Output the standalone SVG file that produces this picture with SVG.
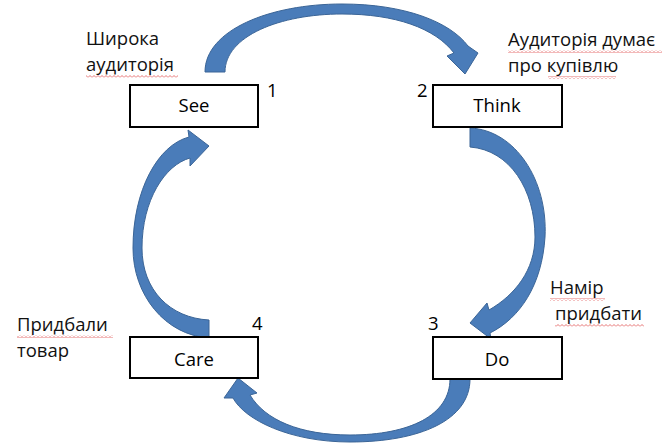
<svg xmlns="http://www.w3.org/2000/svg" width="670" height="443" viewBox="0 0 670 443">
<defs>
<pattern id="wave" x="0" y="0" width="4" height="3" patternUnits="userSpaceOnUse">
<path d="M0,2.5 L2,0.5 L4,2.5" fill="none" stroke="#e05050" stroke-width="0.8"/>
</pattern>
</defs>
<style>
.box{fill:#ffffff;stroke:#000000;stroke-width:2}
.arrow{fill:#4a7cb9;stroke:#3b6597;stroke-width:1;stroke-linejoin:round}
.lbl{font-family:"Open Sans","Liberation Sans",sans-serif;font-size:18.5px;fill:#111111}
.name{font-family:"Open Sans","Liberation Sans",sans-serif;font-size:18.5px;fill:#000000;text-anchor:middle}
.num{font-family:"Open Sans","Liberation Sans",sans-serif;font-size:18.5px;fill:#000000}
.squig{fill:url(#wave)}
</style>
<rect width="670" height="443" fill="#ffffff"/>

<g id="connectors">
<path id="arrow-see-think" class="arrow" d="M205,72 C205,30 270,4 342,4 C405,4 450,22 468,46 L478,53 L465,74 L447,56 L454,53 C435,28 395,14 342,14 C280,14 225,36 225,72 Z"/>
<path id="arrow-think-do" class="arrow" d="M470,128 C515,130 548,180 545,237 C542,285 520,318 490,333 L491,339 L470,323 L487,303 L489,310 C515,295 535,270 535,237 C535,190 510,150 470,147 Z"/>
<path id="arrow-do-care" class="arrow" d="M450,379 L470,379 C470,420 420,442 350,442 C290,442 245,420 233,398 L224,398 L238,378 L257,393 L250,395 C265,420 300,435 350,435 C410,435 450,415 450,379 Z"/>
<path id="arrow-care-see" class="arrow" d="M209,338 C165,335 133,295 133,248 C133,190 158,145 189,137 L188,130 L209,146 L190,166 L190,158 C165,165 142,200 142,248 C142,290 170,318 209,320 Z"/>
</g>

<g id="node-see">
<rect class="box" x="130" y="85" width="128" height="42"/>
<text class="name" x="194" y="112">See</text>
<text class="num" x="267" y="97">1</text>
</g>

<g id="node-think">
<rect class="box" x="433" y="85" width="129" height="42"/>
<text class="name" x="497" y="112">Think</text>
<text class="num" x="417" y="97">2</text>
</g>

<g id="node-do">
<rect class="box" x="433" y="337" width="129" height="42"/>
<text class="name" x="497" y="366">Do</text>
<text class="num" x="428" y="330">3</text>
</g>

<g id="node-care">
<rect class="box" x="130" y="337" width="128" height="41"/>
<text class="name" x="194" y="366">Care</text>
<text class="num" x="252" y="330">4</text>
</g>

<g id="labels">
<text class="lbl" x="86" y="45">Широка</text>
<text class="lbl" x="86" y="71">аудиторія</text>
<rect class="squig" x="86" y="75" width="92" height="3"/>
<text class="lbl" x="508" y="46">Аудиторія думає</text>
<rect class="squig" x="508" y="50" width="154" height="3"/>
<text class="lbl" x="508" y="72">про купівлю</text>
<rect class="squig" x="548" y="76" width="68" height="3"/>
<text class="lbl" x="550" y="294">Намір</text>
<rect class="squig" x="550" y="298" width="55" height="3"/>
<text class="lbl" x="555" y="320">придбати</text>
<rect class="squig" x="555" y="324" width="89" height="3"/>
<text class="lbl" x="17" y="331">Придбали</text>
<rect class="squig" x="17" y="335" width="96" height="3"/>
<text class="lbl" x="17" y="357">товар</text>
</g>
</svg>
